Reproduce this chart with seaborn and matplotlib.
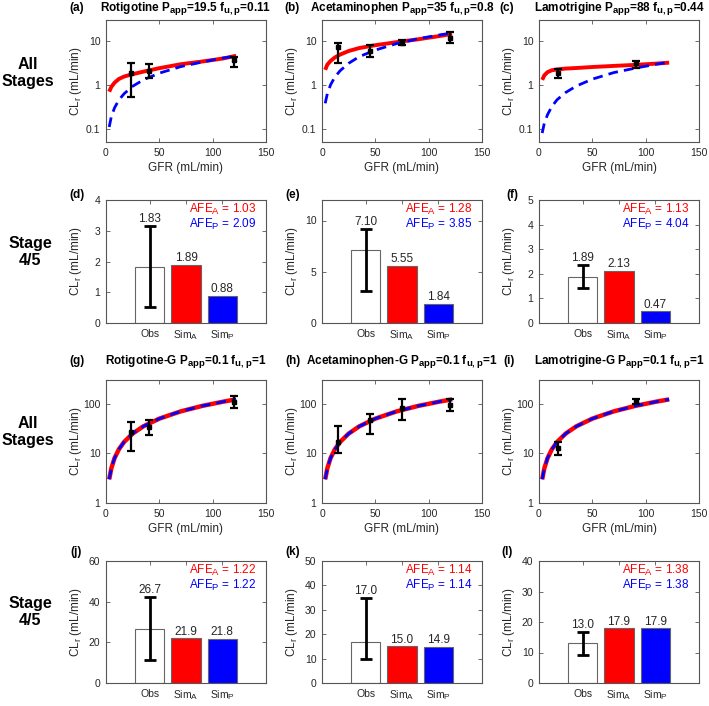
import matplotlib
matplotlib.use("Agg")
import matplotlib.pyplot as plt
import matplotlib._mathtext as _mt
import seaborn as sns

sns.set_theme(style="ticks")
plt.rcParams["font.family"] = ["Liberation Sans", "DejaVu Sans"]
plt.rcParams["mathtext.default"] = "regular"
_mt.SHRINK_FACTOR = 0.8

# ---------------- data ----------------
gfr_grid = [3, 5, 8, 12, 17, 25, 35, 50, 70, 90, 110, 122]

rot_simA = [0.70, 0.90, 1.12, 1.36, 1.55, 1.75, 2.00, 2.40, 2.95, 3.40, 4.00, 4.60]
rot_simP = [0.11, 0.19, 0.30, 0.45, 0.63, 0.93, 1.30, 1.85, 2.60, 3.30, 4.10, 4.50]
ace_simA = [2.2, 2.9, 3.5, 4.2, 4.9, 5.9, 6.9, 8.0, 9.4, 10.9, 12.9, 14.5]
ace_simP = [0.38, 0.63, 1.0, 1.5, 2.1, 3.1, 4.4, 6.2, 8.7, 11.2, 13.7, 15.2]
lam_simA = [1.3, 1.65, 1.95, 2.15, 2.25, 2.35, 2.42, 2.55, 2.7, 2.85, 3.05, 3.2]
lam_simP = [0.08, 0.135, 0.21, 0.32, 0.46, 0.67, 0.94, 1.35, 1.9, 2.4, 2.95, 3.3]
rotg_simA = [3, 5, 8, 12, 17, 25, 35, 50, 70, 90, 110, 122]
rotg_simP = [3, 5, 8, 12, 17, 25, 35, 50, 70, 90, 110, 122]
aceg_simA = [3, 5, 8, 12, 17, 25, 35, 50, 70, 90, 110, 122]
aceg_simP = [3, 5, 8, 12, 17, 25, 35, 50, 70, 90, 110, 122]
lamg_simA = [3, 5, 8, 12, 17, 25, 35, 50, 70, 90, 110, 122]
lamg_simP = [3, 5, 8, 12, 17, 25, 35, 50, 70, 90, 110, 122]

rot_obs_gfr = [23, 40, 120]
rot_obs = [1.83, 2.10, 3.60]
rot_obs_lo = [0.52, 1.41, 2.60]
rot_obs_hi = [3.15, 2.92, 4.20]
ace_obs_gfr = [15, 45, 75, 120]
ace_obs = [7.10, 5.9, 9.2, 11.7]
ace_obs_lo = [3.1, 4.2, 8.0, 9.2]
ace_obs_hi = [9.2, 8.0, 10.4, 15.9]
lam_obs_gfr = [18, 91]
lam_obs = [1.89, 3.1]
lam_obs_lo = [1.43, 2.45]
lam_obs_hi = [2.35, 3.5]
rotg_obs_gfr = [23, 40, 120]
rotg_obs = [26.7, 34, 106]
rotg_obs_lo = [11.1, 23.3, 83]
rotg_obs_hi = [42.2, 48, 142]
aceg_obs_gfr = [15, 45, 75, 120]
aceg_obs = [17.0, 47, 82, 95]
aceg_obs_lo = [10.0, 25, 47, 72]
aceg_obs_hi = [35.0, 62, 126, 124]
lamg_obs_gfr = [18, 91]
lamg_obs = [13.0, 114]
lamg_obs_lo = [9.3, 100]
lamg_obs_hi = [16.8, 127]

bar_labels = ["Obs", "Sim$_A$", "Sim$_P$"]
rot_bar = [1.83, 1.89, 0.88]; rot_bar_err = [0.52, 3.15]; rot_afe = ["1.03", "2.09"]
ace_bar = [7.10, 5.55, 1.84]; ace_bar_err = [3.1, 9.2]; ace_afe = ["1.28", "3.85"]
lam_bar = [1.89, 2.13, 0.47]; lam_bar_err = [1.43, 2.35]; lam_afe = ["1.13", "4.04"]
rotg_bar = [26.7, 21.9, 21.8]; rotg_bar_err = [11.1, 42.2]; rotg_afe = ["1.22", "1.22"]
aceg_bar = [17.0, 15.0, 14.9]; aceg_bar_err = [10.0, 35.0]; aceg_afe = ["1.14", "1.14"]
lamg_bar = [13.0, 17.9, 17.9]; lamg_bar_err = [9.3, 16.8]; lamg_afe = ["1.38", "1.38"]

titles_parent = ["Rotigotine P$_{app}$=19.5 f$_{u,p}$=0.11",
                 "Acetaminophen P$_{app}$=35 f$_{u,p}$=0.8",
                 "Lamotrigine P$_{app}$=88 f$_{u,p}$=0.44"]
titles_gluc = ["Rotigotine-G P$_{app}$=0.1 f$_{u,p}$=1",
               "Acetaminophen-G P$_{app}$=0.1 f$_{u,p}$=1",
               "Lamotrigine-G P$_{app}$=0.1 f$_{u,p}$=1"]
panel_letters = ["(a)", "(b)", "(c)", "(d)", "(e)", "(f)",
                 "(g)", "(h)", "(i)", "(j)", "(k)", "(l)"]

# ---------------- layout ----------------
FW, FH = 709, 706
fig = plt.figure(figsize=(FW / 100, FH / 100), dpi=100)
cols = [106, 322, 539]
AW = 160
rows_top = [20, 200, 380, 561]
rows_bot = [142, 323, 503, 683]
TXT = "#262626"
SPINE = "#555555"


def make_ax(c, r):
    return fig.add_axes([cols[c] / FW, 1 - rows_bot[r] / FH, AW / FW,
                         (rows_bot[r] - rows_top[r]) / FH])


def style(ax):
    for s in ax.spines.values():
        s.set_visible(True)
        s.set_color(SPINE)
        s.set_linewidth(0.8)
    ax.tick_params(direction="in", top=True, right=True, length=3, width=0.6,
                   color=SPINE, labelcolor=TXT, labelsize=7.5, pad=4)
    ax.minorticks_off()


def line_panel(ax, simA, simP, ogfr, obs, lo, hi, ylim, yticks, yticklabels, gluc):
    sns.lineplot(x=gfr_grid, y=simA, ax=ax, color="red", lw=3.2 if gluc else 2.8,
                 solid_capstyle="butt")
    sns.lineplot(x=gfr_grid, y=simP, ax=ax, color="blue", lw=2.0,
                 linestyle=(0, (3.5, 2.2)))
    ax.set_yscale("log")
    yerr = [[o - l for o, l in zip(obs, lo)], [h - o for o, h in zip(obs, hi)]]
    ax.errorbar(ogfr, obs, yerr=yerr, fmt="s", color="black", ms=3.4, elinewidth=1.6,
                capsize=3, capthick=1.6, zorder=5)
    ax.set_xlim(0, 150)
    ax.set_xticks([0, 50, 100, 150])
    ax.set_ylim(*ylim)
    ax.set_yticks(yticks)
    ax.set_yticklabels(yticklabels)
    style(ax)
    ax.set_xlabel("GFR (mL/min)", fontsize=8.5, color=TXT)
    ax.xaxis.set_label_coords(0.5, -0.165)
    ax.set_ylabel("CL$_r$ (mL/min)", fontsize=8.5, color=TXT)
    ax.yaxis.set_label_coords(-0.14, 0.5)


def bar_panel(ax, vals, err, afe, ylim, yticks, fmt):
    sns.barplot(x=bar_labels, y=vals, hue=bar_labels, palette=["white", "red", "blue"],
                saturation=1, width=0.8, edgecolor="#666666", linewidth=0.8,
                legend=False, ax=ax)
    ax.errorbar(0, vals[0], yerr=[[vals[0] - err[0]], [err[1] - vals[0]]], fmt="none",
                ecolor="black", elinewidth=2, capsize=4.5, capthick=2, zorder=5)
    tops = [err[1], vals[1], vals[2]]
    for i, (v, t) in enumerate(zip(vals, tops)):
        ax.annotate(fmt.format(v), (i, t), xytext=(0, 0.5), textcoords="offset points",
                    ha="center", va="bottom", fontsize=8.5, color=TXT)
    ax.text(0.94, 0.895, "AFE$_A$ = " + afe[0], color="red", fontsize=8.5,
            transform=ax.transAxes, ha="right", va="baseline")
    ax.text(0.94, 0.77, "AFE$_P$ = " + afe[1], color="blue", fontsize=8.5,
            transform=ax.transAxes, ha="right", va="baseline")
    ax.set_xlim(-1.2, 3.2)
    ax.set_ylim(*ylim)
    ax.set_yticks(yticks)
    style(ax)
    ax.set_xlabel("")
    ax.set_ylabel("CL$_r$ (mL/min)", fontsize=8.5, color=TXT)
    ax.yaxis.set_label_coords(-0.14, 0.5)


line_specs = [
    (rot_simA, rot_simP, rot_obs_gfr, rot_obs, rot_obs_lo, rot_obs_hi),
    (ace_simA, ace_simP, ace_obs_gfr, ace_obs, ace_obs_lo, ace_obs_hi),
    (lam_simA, lam_simP, lam_obs_gfr, lam_obs, lam_obs_lo, lam_obs_hi),
]
gline_specs = [
    (rotg_simA, rotg_simP, rotg_obs_gfr, rotg_obs, rotg_obs_lo, rotg_obs_hi),
    (aceg_simA, aceg_simP, aceg_obs_gfr, aceg_obs, aceg_obs_lo, aceg_obs_hi),
    (lamg_simA, lamg_simP, lamg_obs_gfr, lamg_obs, lamg_obs_lo, lamg_obs_hi),
]
bar_specs = [
    (rot_bar, rot_bar_err, rot_afe, (0, 4), [0, 1, 2, 3, 4]),
    (ace_bar, ace_bar_err, ace_afe, (0, 12), [0, 5, 10]),
    (lam_bar, lam_bar_err, lam_afe, (0, 5), [0, 1, 2, 3, 4, 5]),
]
gbar_specs = [
    (rotg_bar, rotg_bar_err, rotg_afe, (0, 60), [0, 20, 40, 60]),
    (aceg_bar, aceg_bar_err, aceg_afe, (0, 50), [0, 10, 20, 30, 40, 50]),
    (lamg_bar, lamg_bar_err, lamg_afe, (0, 40), [0, 10, 20, 30, 40]),
]

for c in range(3):
    ax = make_ax(c, 0)
    line_panel(ax, *line_specs[c], (0.05, 30), [0.1, 1, 10], ["0.1", "1", "10"], False)
    ax = make_ax(c, 1)
    bar_panel(ax, *bar_specs[c], "{:.2f}")
    ax = make_ax(c, 2)
    line_panel(ax, *gline_specs[c], (1, 300), [1, 10, 100], ["1", "10", "100"], True)
    ax = make_ax(c, 3)
    bar_panel(ax, *gbar_specs[c], "{:.1f}")


def ftext(x, y, s, **kw):
    fig.text(x / FW, 1 - y / FH, s, **kw)


# titles (rows with line plots)
for c in range(3):
    cx = cols[c] + AW / 2
    ftext(cx, 11, titles_parent[c], ha="center", va="baseline", fontsize=8.5,
          fontweight="bold", color="black")
    ftext(cx, 364, titles_gluc[c], ha="center", va="baseline", fontsize=8.5,
          fontweight="bold", color="black")

label_x = [[77, 292, 507], [77, 293, 512], [77, 293, 509], [76, 293, 507]]
label_y = [11, 198, 364, 555]
for r in range(4):
    for c in range(3):
        ftext(label_x[r][c], label_y[r], panel_letters[r * 3 + c], ha="center",
              va="baseline", fontsize=8.5, fontweight="bold", color="black")

row_names = ["All\nStages", "Stage\n4/5", "All\nStages", "Stage\n4/5"]
row_y = [73, 252, 432, 612]
row_x = [28, 30, 28, 30]
for r in range(4):
    ftext(row_x[r], row_y[r], row_names[r], ha="center", va="center", fontsize=11.5,
          fontweight="bold", color="black", linespacing=1.2, multialignment="center")

fig.savefig("out.png", dpi=100)
